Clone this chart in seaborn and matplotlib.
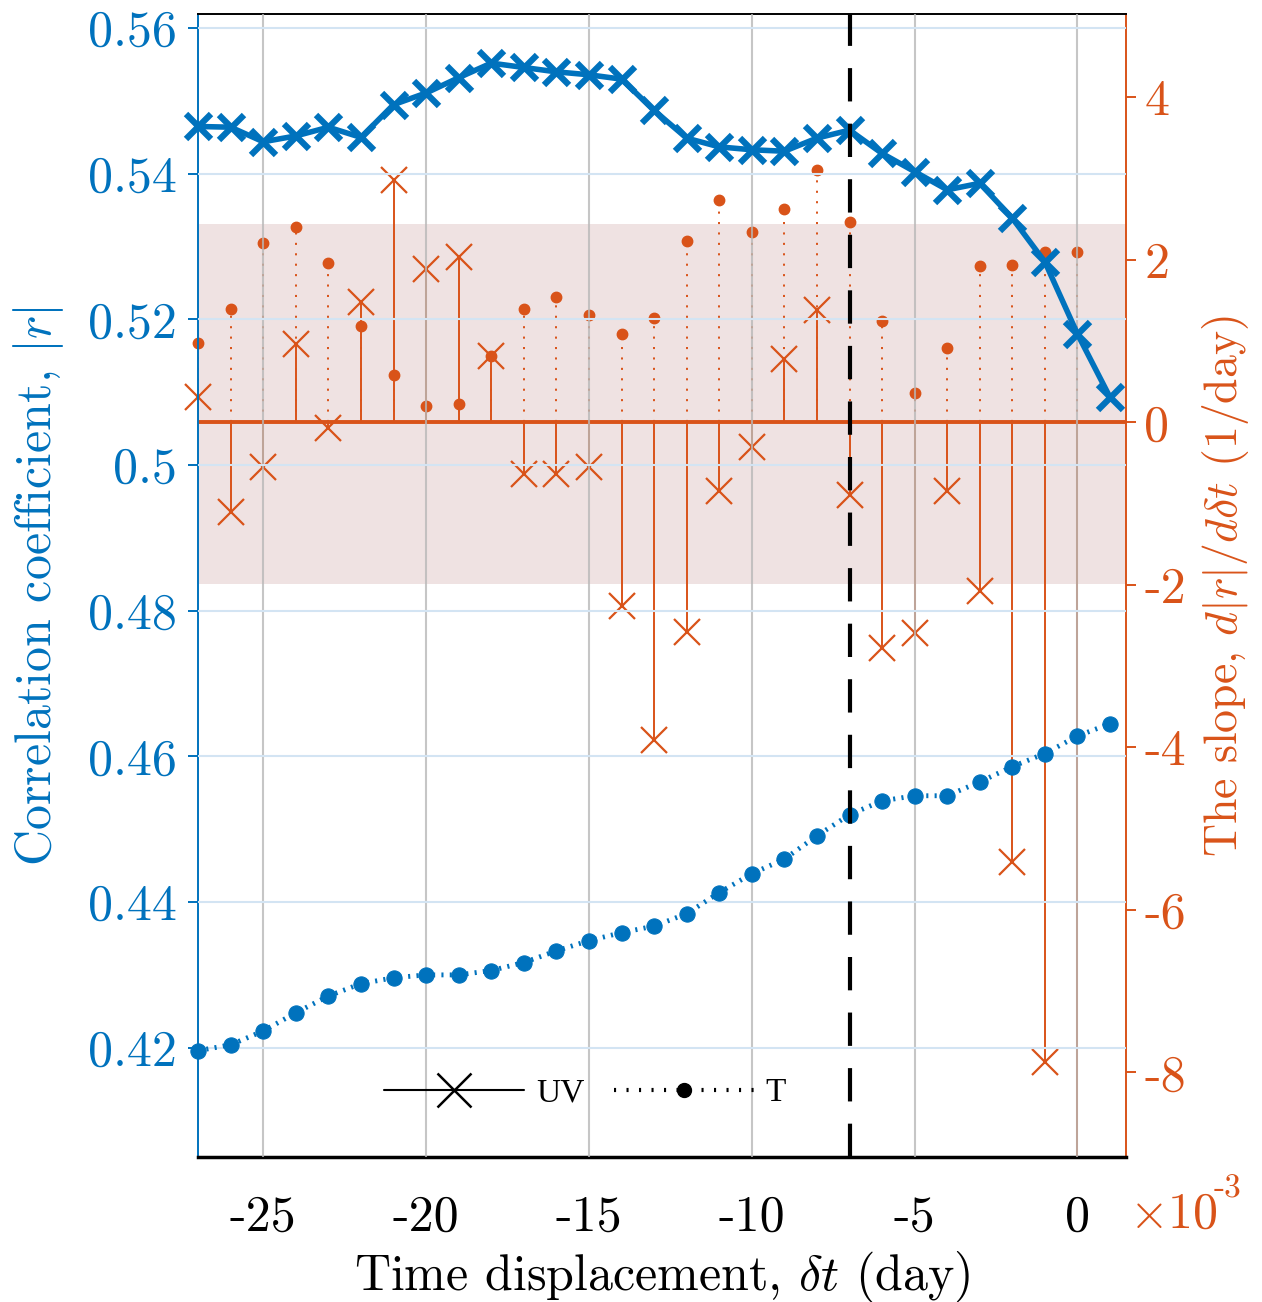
import numpy as np
import pandas as pd
import matplotlib
matplotlib.use("Agg")
import matplotlib.pyplot as plt
from matplotlib.lines import Line2D
from matplotlib.ticker import FormatStrFormatter, FixedLocator
import seaborn as sns

# time lags (day)
lags = [-27, -26, -25, -24, -23, -22, -21, -20, -19, -18, -17, -16, -15, -14,
        -13, -12, -11, -10, -9, -8, -7, -6, -5, -4, -3, -2, -1, 0, 1]

# |r| for UV and T
r_uv = [0.5465, 0.5464, 0.5444, 0.5452, 0.5464, 0.5450, 0.5495, 0.5511, 0.5532,
        0.5552, 0.5546, 0.5540, 0.5536, 0.5530, 0.5487, 0.5449, 0.5437, 0.5433,
        0.5431, 0.5449, 0.5460, 0.5428, 0.5403, 0.5378, 0.5387, 0.5339, 0.5279,
        0.5180, 0.5093]
r_t = [0.4196, 0.4204, 0.4223, 0.4248, 0.4271, 0.4288, 0.4296, 0.4300, 0.4300,
       0.4306, 0.4317, 0.4333, 0.4347, 0.4358, 0.4367, 0.4384, 0.4413, 0.4439,
       0.4459, 0.4491, 0.4520, 0.4539, 0.4546, 0.4546, 0.4565, 0.4586, 0.4604,
       0.4628, 0.4645]

# slopes d|r|/d(dt), x1e-3 per day
slope_lags = lags[:-1]
slope_uv = [0.31, -1.11, -0.55, 0.96, -0.07, 1.48, 2.98, 1.89, 2.03, 0.81,
            -0.64, -0.64, -0.55, -2.26, -3.91, -2.58, -0.85, -0.31, 0.78, 1.38,
            -0.89, -2.78, -2.59, -0.85, -2.07, -5.41, -7.87, -11.0]
slope_t = [0.97, 1.40, 2.21, 2.40, 1.96, 1.18, 0.58, 0.20, 0.22, 0.81, 1.40,
           1.54, 1.32, 1.09, 1.28, 2.23, 2.73, 2.34, 2.63, 3.11, 2.46, 1.25,
           0.36, 0.92, 1.92, 1.94, 2.10, 2.09]

band = (-1.99, 2.44)   # shaded slope range
lag_mark = -7

BLUE = "#0072BD"
ORANGE = "#D95319"
FS = 36

sns.set_theme(style="white")
plt.rcParams["font.family"] = ["cmr10", "DejaVu Serif"]
plt.rcParams["mathtext.fontset"] = "cm"
plt.rcParams["axes.unicode_minus"] = False
plt.rcParams["axes.formatter.use_mathtext"] = True
plt.rcParams["lines.scale_dashes"] = False
plt.rcParams["text.color"] = "black"
plt.rcParams["axes.labelcolor"] = "black"

df = pd.DataFrame({"lag": lags, "uv": r_uv, "t": r_t})

fig = plt.figure(figsize=(12.62, 13.02), dpi=100)
ax = fig.add_axes([0.157, 0.1114, 0.7355, 0.8776])
ax2 = ax.twinx()
ax.set_zorder(ax2.get_zorder() + 1)
ax.patch.set_visible(False)

# right axis: slopes
ax2.axhspan(band[0], band[1], color="#EFE2E2", lw=0, zorder=0)
ax2.vlines(slope_lags, 0, slope_t, colors=ORANGE, lw=1.4,
           linestyles=(0, (1.5, 6)), zorder=2)
ax2.vlines(slope_lags, 0, slope_uv, colors=ORANGE, lw=1.4, zorder=2)
ax2.plot(slope_lags, slope_t, ls="none", marker="o", ms=7.5, color=ORANGE,
         zorder=3, clip_on=False)
ax2.plot(slope_lags, slope_uv, ls="none", marker="x", ms=19, mew=1.6,
         color=ORANGE, zorder=3, clip_on=False)
ax2.axhline(0, color=ORANGE, lw=2.8, zorder=3)
ax2.set_ylim(-9.04, 5.02)
ax2.yaxis.set_major_locator(FixedLocator([-8, -6, -4, -2, 0, 2, 4]))
ax2.yaxis.set_major_formatter(FormatStrFormatter("%d"))
ax2.set_ylabel(r"The slope, $d|r|/d\delta t$ (1/day)", color=ORANGE,
               fontsize=33, labelpad=10)
ax2.tick_params(axis="y", colors=ORANGE, labelsize=FS, direction="out",
                length=7, width=1.4, pad=6)
for s in ["left", "top", "bottom"]:
    ax2.spines[s].set_visible(False)
ax2.spines["right"].set_color(ORANGE)
ax2.spines["right"].set_linewidth(1.4)

# left axis: correlation coefficients
sns.lineplot(data=df, x="lag", y="uv", ax=ax, color=BLUE, lw=4,
             marker="x", ms=18, mew=4.5, mec=BLUE, zorder=5, clip_on=False)
sns.lineplot(data=df, x="lag", y="t", ax=ax, color=BLUE, lw=3.5,
             dashes=False, marker="o", ms=11, mec=BLUE, zorder=5, clip_on=False)
ax.lines[-1].set_linestyle((0, (1.5, 4.5)))
ax.axvline(lag_mark, color="black", lw=3, dashes=(24, 16), zorder=6)

ax.set_xlim(-27, 1.5)
ax.set_ylim(0.405, 0.5619)
ax.set_xticks([-25, -20, -15, -10, -5, 0])
ax.xaxis.set_major_formatter(FormatStrFormatter("%d"))
ax.set_yticks([0.42, 0.44, 0.46, 0.48, 0.5, 0.52, 0.54, 0.56])
ax.yaxis.set_major_formatter(FormatStrFormatter("%g"))
ax.grid(axis="x", color="#b8b8b8", lw=1.5, alpha=0.8)
ax.grid(axis="y", color="#d3e4f3", lw=1.5)
ax.set_axisbelow(False)
for gl in ax.get_xgridlines() + ax.get_ygridlines():
    gl.set_zorder(1)

ax.set_xlabel(r"Time displacement, $\delta t$ (day)", fontsize=FS, labelpad=6,
              color="black")
ax.set_ylabel(r"Correlation coefficient, $|r|$", color=BLUE, fontsize=FS,
              labelpad=16)
ax.tick_params(axis="x", colors="black", labelcolor="black", labelsize=FS,
               direction="out", length=7, width=1.4, pad=20)
ax.tick_params(axis="y", colors=BLUE, labelsize=FS, direction="out",
               length=7, width=1.4, pad=8)
ax.spines["right"].set_visible(False)
ax.spines["left"].set_color(BLUE)
ax.spines["left"].set_linewidth(1.4)
ax.spines["top"].set_color("black")
ax.spines["top"].set_linewidth(1.4)
ax.spines["bottom"].set_color("black")
ax.spines["bottom"].set_linewidth(2.5)

# exponent label for the right axis
fig.text(0.895, 0.057, r"$\times$10", color=ORANGE, fontsize=FS,
         ha="left", va="baseline")
fig.text(0.962, 0.080, "-3", color=ORANGE, fontsize=24, ha="left", va="baseline")

handles = [
    Line2D([], [], color="black", lw=1.5, marker="x", ms=25, mew=1.8),
    Line2D([], [], color="black", lw=3, ls=(0, (1.5, 7.5)), marker="o", ms=10),
]
ax.legend(handles, ["UV", "T"], loc="center", bbox_to_anchor=(0.417, 0.056),
          ncol=2, frameon=False, handlelength=4.2, handletextpad=0.35,
          columnspacing=0.9, labelcolor="black",
          prop={"family": "Liberation Serif", "size": 24})

fig.savefig("out.png", dpi=100)
